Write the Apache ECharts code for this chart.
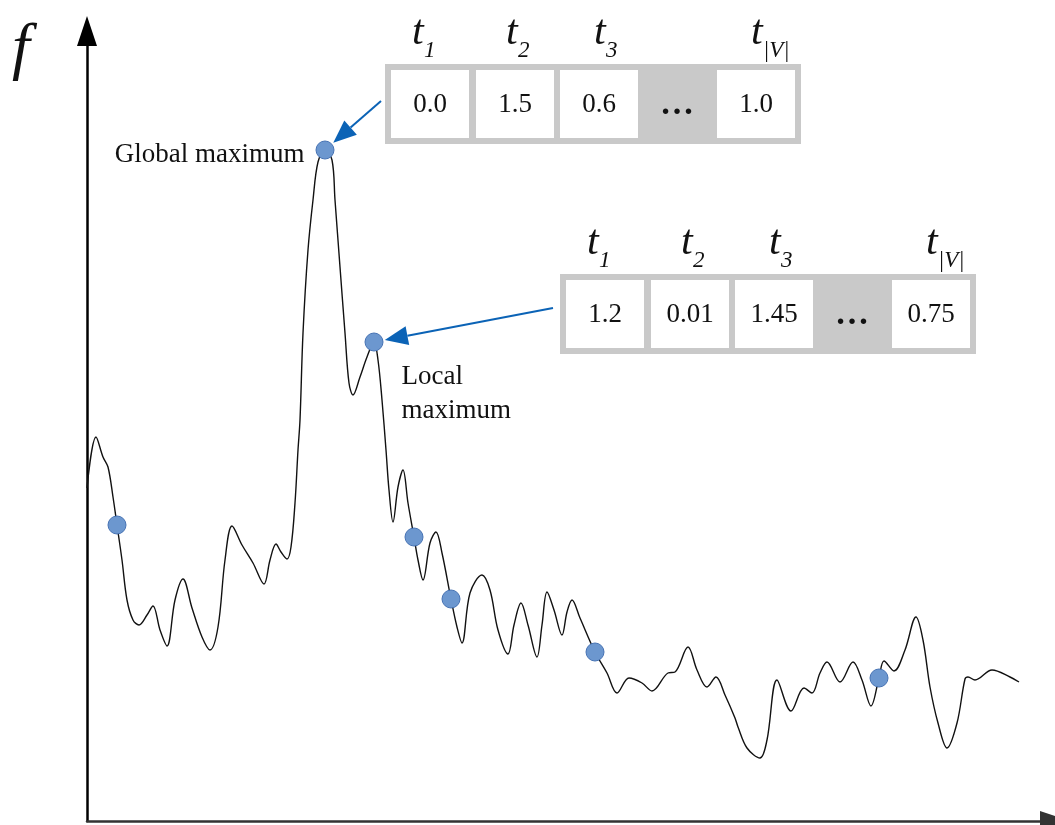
<!DOCTYPE html>
<html><head><meta charset="utf-8">
<script src="https://cdn.jsdelivr.net/npm/echarts@6/dist/echarts.min.js"></script>
<style>html,body{margin:0;padding:0;background:#fff}#c{width:1055px;height:825px}</style>
</head><body><div id="c"></div>
<script>
// ---- data (arbitrary units) ----
const curveX = [0,9,16,21,26,30,35,40,46,52,60,66,73,80,88,96,105,115,123,131,138,145,155,166,177,183,189,194,200,204,208,211,213,216,221,226,231,238,245,248,253,258,262,266,273,280,287,291,295,299,302,306,311,316,321,327,331,336,343,349,355,364,370,375,383,395,403,411,421,427,434,441,450,455,460,467,475,480,485,493,508,520,530,542,555,565,581,588,601,610,620,629,638,648,651,660,673,680,690,704,717,725,733,740,753,766,775,784,792,797,807,818,829,836,843,851,860,870,878,881,888,905,923,932];
const curveY = [333,384,364,354,324,296,261,221,201,196,206,215,191,175,221,242,213,184,171,194,261,295,276,258,237,261,277,269,262,274,318,371,401,488,571,621,659,671,661,621,554,488,438,426,444,464,479,461,421,371,331,299,334,351,318,284,261,241,278,289,268,222,194,178,228,246,231,191,167,196,218,196,164,196,229,211,186,209,221,203,169,148,128,143,138,130,148,149,174,151,134,144,126,103,94,73,63,81,141,110,133,128,148,159,139,159,141,115,143,160,150,171,204,181,134,98,73,98,142,144,141,151,144,139];
const pointX = [30,238,287,327,364,508,792];
const pointY = [296,671,479,284,222,169,143];
const pointLabels = ['','Global maximum','Local\nmaximum','','','',''];
const headerSubs = ['1','2','3','','|V|'];
const table1Values = ['0.0','1.5','0.6','…','1.0'];
const table2Values = ['1.2','0.01','1.45','…','0.75'];
const axisName = 'f';

// ---- chart ----
const SERIF = "'Liberation Serif', 'DejaVu Serif', serif";
const TXT = '#111';
const chart = echarts.init(document.getElementById('c'), null, {renderer: 'canvas'});
const curve = curveX.map((x, i) => [x, curveY[i]]);
const labelBase = {show: true, color: TXT, opacity: 1, fontSize: 27, fontFamily: SERIF};
const points = pointX.map((x, i) => {
  const item = {value: [x, pointY[i]]};
  if (i === 1) {
    item.label = Object.assign({}, labelBase, {position: 'left', distance: 11, offset: [0, 5], formatter: pointLabels[i]});
  } else if (i === 2) {
    item.label = Object.assign({}, labelBase, {position: [37, 27], align: 'left', verticalAlign: 'top', lineHeight: 34, formatter: pointLabels[i]});
  }
  return item;
});

chart.setOption({
  animation: false,
  backgroundColor: '#fff',
  grid: {left: 87, right: 0, top: 31, bottom: 4, containLabel: false},
  xAxis: {
    type: 'value', min: 0, max: 968,
    axisLine: {show: true, onZero: false, symbol: ['none', 'triangle'], symbolSize: [20, 30], lineStyle: {color: '#333', width: 2.5}},
    axisTick: {show: false}, axisLabel: {show: false}, splitLine: {show: false}
  },
  yAxis: {
    type: 'value', min: 0, max: 790,
    axisLine: {show: true, onZero: false, symbol: ['none', 'triangle'], symbolSize: [20, 30], lineStyle: {color: '#000', width: 2.5}},
    axisTick: {show: false}, axisLabel: {show: false}, splitLine: {show: false}
  },
  series: [
    {type: 'line', data: curve, smooth: 0.35, symbol: 'none', z: 2,
     lineStyle: {color: '#111', width: 1.4}},
    {type: 'scatter', data: points, symbol: 'circle', symbolSize: 18, z: 5,
     itemStyle: {color: '#6c97cf', borderColor: '#4773b4', borderWidth: 1, opacity: 1},
     label: {show: false, color: TXT, fontSize: 27, fontFamily: SERIF},
     emphasis: {disabled: true}}
  ]
});

// ---- annotations: tables and arrows ----
const G = [];
const OUT_W = 416, OUT_H = 80, PAD = 6, CELL_W = 78, CELL_H = 68;
const cellOffs = [6, 91, 175, null, 332];
const tOffs = [-18, -9, -5, 0, -5];
function addTable(ox, oy, values) {
  G.push({type: 'rect', shape: {x: ox, y: oy, width: OUT_W, height: OUT_H}, style: {fill: '#c9c9c9'}, z: 10});
  values.forEach((v, i) => {
    const off = cellOffs[i];
    if (off === null) {
      G.push({type: 'text', z: 12, style: {text: v, x: ox + 292, y: oy + OUT_H / 2 + 1, align: 'center', verticalAlign: 'middle',
        font: "bold 34px " + SERIF, fill: TXT}});
      return;
    }
    const cx = ox + off + CELL_W / 2;
    G.push({type: 'rect', z: 11, shape: {x: ox + off, y: oy + PAD, width: CELL_W, height: CELL_H}, style: {fill: '#fff'}});
    G.push({type: 'text', z: 12, style: {text: v, x: cx, y: oy + OUT_H / 2 + 1, align: 'center', verticalAlign: 'middle',
      font: "27px " + SERIF, fill: TXT}});
    const tx = cx + tOffs[i];
    G.push({type: 'text', z: 12, style: {text: 't', x: tx, y: oy - 31, align: 'left', verticalAlign: 'middle',
      font: "italic 42px " + SERIF, fill: TXT}});
    G.push({type: 'text', z: 12, style: {text: headerSubs[i], x: tx + 12, y: oy - 13, align: 'left', verticalAlign: 'middle',
      font: "italic 23px " + SERIF, fill: TXT}});
  });
}
addTable(385, 64, table1Values);
addTable(560, 274, table2Values);

function addArrow(sx, sy, pointIndex) {
  const c = chart.convertToPixel({seriesIndex: 1}, [pointX[pointIndex], pointY[pointIndex]]);
  const dx = sx - c[0], dy = sy - c[1];
  const len = Math.hypot(dx, dy);
  const ux = dx / len, uy = dy / len;
  const tip = [c[0] + ux * 11, c[1] + uy * 11];
  const base = [tip[0] + ux * 23, tip[1] + uy * 23];
  const nx = -uy, ny = ux, hw = 9.5;
  const color = '#0b63b6';
  G.push({type: 'line', z: 8, shape: {x1: sx, y1: sy, x2: base[0], y2: base[1]}, style: {stroke: color, lineWidth: 2}});
  G.push({type: 'polygon', z: 8, shape: {points: [tip, [base[0] + nx * hw, base[1] + ny * hw], [base[0] - nx * hw, base[1] - ny * hw]]},
    style: {fill: color}});
}
addArrow(381, 101, 1);
addArrow(553, 308, 2);

G.push({type: 'text', z: 12, style: {text: axisName, x: 12, y: 50, align: 'left', verticalAlign: 'middle',
  font: "italic 64px " + SERIF, fill: TXT}});

chart.setOption({graphic: G});
</script>
</body></html>
